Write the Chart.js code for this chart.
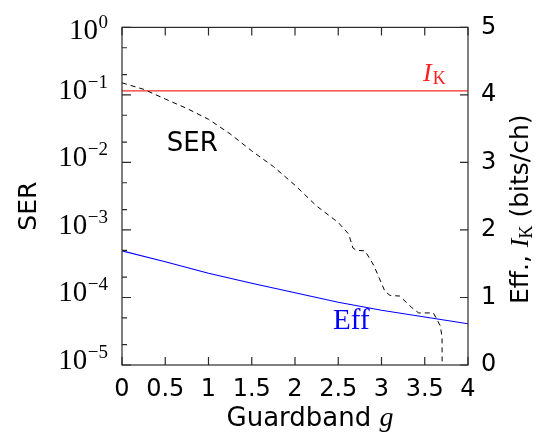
<!DOCTYPE html>
<html><head><meta charset="utf-8">
<script src="https://cdn.jsdelivr.net/npm/chart.js@4"></script>
<style>html,body{margin:0;padding:0;background:#fff;}canvas{display:block;}</style>
</head><body><canvas id="c" width="543" height="435"></canvas>
<script>
// ---- data ----
const xTicks = [0, 0.5, 1, 1.5, 2, 2.5, 3, 3.5, 4];
const xTickLabels = ["0", "0.5", "1", "1.5", "2", "2.5", "3", "3.5", "4"];
const leftTickVals = [1, 0.1, 0.01, 0.001, 0.0001, 0.00001];
const leftTickExps = ["0", "\u22121", "\u22122", "\u22123", "\u22124", "\u22125"];
const leftMinorMult = [0.5, 0.2];
const rightTicks = [0, 1, 2, 3, 4, 5];

const serX = [0, 0.25, 0.5, 0.75, 1, 1.25, 1.5, 1.75, 2, 2.25, 2.5, 2.62, 2.67, 2.71, 2.81, 2.91, 3.04, 3.1, 3.21, 3.35, 3.43, 3.6, 3.68, 3.7, 3.705];
const serY = [0.151, 0.121, 0.087, 0.063, 0.0436, 0.0265, 0.0148, 0.0087, 0.0046, 0.00226, 0.00129, 0.00087, 0.00054, 0.0005, 0.00049, 0.0003, 0.000123, 0.000107, 0.000105, 0.000071, 0.000059, 0.000059, 0.000038, 0.0000257, 0.0000001];
const effX = [0, 0.5, 1, 1.5, 2, 2.5, 3, 3.5, 4];
const effY = [1.69, 1.53, 1.36, 1.21, 1.07, 0.93, 0.81, 0.71, 0.61];
const ikX = [0, 4];
const ikY = [4.06, 4.06];

const SANS = '"DejaVu Sans"';
const SERIF = '"Liberation Serif"';

const pts = (xs, ys) => xs.map((x, i) => ({x: x, y: ys[i]}));

function drawPieces(ctx, pieces, x0, y0) {
  let w = 0;
  pieces.forEach(p => { ctx.font = p.f; p.w = ctx.measureText(p.t).width; w += p.w; });
  let x = x0 - w / 2;
  pieces.forEach(p => { ctx.font = p.f; ctx.fillStyle = p.c || '#000'; ctx.fillText(p.t, x, y0 + (p.dy || 0)); x += p.w; });
}

const decor = {
  id: 'decor',
  afterDraw(chart) {
    const {ctx, chartArea: a, scales} = chart;
    const sx = scales.x, sy = scales.y, sy2 = scales.y2;
    ctx.save();
    ctx.strokeStyle = '#2a2a2a';
    ctx.lineWidth = 1.2;
    ctx.beginPath();
    xTicks.forEach(v => {
      const px = sx.getPixelForValue(v);
      ctx.moveTo(px, a.bottom); ctx.lineTo(px, a.bottom - 8);
      ctx.moveTo(px, a.top); ctx.lineTo(px, a.top + 8);
    });
    leftTickVals.forEach((v, i) => {
      const py = sy.getPixelForValue(v);
      ctx.moveTo(a.left, py); ctx.lineTo(a.left + 9, py);
      if (i < leftTickVals.length - 1) {
        leftMinorMult.forEach(m => {
          const q = sy.getPixelForValue(v * m);
          ctx.moveTo(a.left, q); ctx.lineTo(a.left + 5, q);
        });
      }
    });
    rightTicks.forEach(v => {
      const py = sy2.getPixelForValue(v);
      ctx.moveTo(a.right, py); ctx.lineTo(a.right - 8, py);
    });
    ctx.stroke();
    ctx.strokeRect(a.left, a.top, a.right - a.left, a.bottom - a.top);

    // left tick labels (10^k)
    ctx.fillStyle = '#000';
    ctx.textBaseline = 'alphabetic';
    ctx.textAlign = 'left';
    leftTickVals.forEach((v, i) => {
      const py = sy.getPixelForValue(v);
      const base = Math.max(py + 4, a.top + 12);
      ctx.font = '19px ' + SERIF;
      const ew = ctx.measureText(leftTickExps[i]).width;
      ctx.font = '29px ' + SERIF;
      const bw = ctx.measureText('10').width;
      const right = 108;
      ctx.fillText('10', right - ew - bw - 0.5, base);
      ctx.font = '19px ' + SERIF;
      ctx.fillText(leftTickExps[i], right - ew, base - 11);
    });

    // axis titles
    ctx.save();
    ctx.translate(36, (a.top + a.bottom) / 2 + 10);
    ctx.rotate(-Math.PI / 2);
    drawPieces(ctx, [{t: 'SER', f: '25px ' + SANS}], 0, 0);
    ctx.restore();

    drawPieces(ctx, [
      {t: 'Guardband ', f: '26px ' + SANS},
      {t: 'g', f: 'italic 28px ' + SERIF}
    ], (a.left + a.right) / 2 + 15, 426);

    ctx.save();
    ctx.translate(528, (a.top + a.bottom) / 2 + 13);
    ctx.rotate(-Math.PI / 2);
    drawPieces(ctx, [
      {t: 'Eff., ', f: '25px ' + SANS},
      {t: 'I', f: 'italic 26px ' + SERIF},
      {t: 'K', f: '18px ' + SERIF, dy: 4},
      {t: ' (bits/ch)', f: '25px ' + SANS}
    ], 0, 0);
    ctx.restore();

    // in-plot labels
    ctx.textAlign = 'left';
    ctx.fillStyle = '#000';
    ctx.font = '26px ' + SANS;
    ctx.fillText('SER', sx.getPixelForValue(0.517), sy.getPixelForValue(0.01456));
    ctx.fillStyle = '#0000ff';
    ctx.font = '29px ' + SERIF;
    ctx.fillText('Eff', sx.getPixelForValue(2.44), sy2.getPixelForValue(0.54));
    ctx.fillStyle = '#ff2020';
    ctx.font = 'italic 26px ' + SERIF;
    const ix = sx.getPixelForValue(3.48), iy = sy2.getPixelForValue(4.2);
    ctx.fillText('I', ix, iy);
    const iw = ctx.measureText('I').width;
    ctx.font = '18px ' + SERIF;
    ctx.fillText('K', ix + iw + 1, iy + 3);
    ctx.restore();
  }
};

new Chart(document.getElementById('c'), {
  type: 'line',
  data: {
    datasets: [
      {label: 'SER', data: pts(serX, serY), yAxisID: 'y', borderColor: '#000', borderWidth: 1, borderDash: [5, 4], pointRadius: 0, fill: false, tension: 0},
      {label: 'Eff', data: pts(effX, effY), yAxisID: 'y2', borderColor: '#0000ff', borderWidth: 1.1, pointRadius: 0, fill: false, tension: 0},
      {label: 'IK', data: pts(ikX, ikY), yAxisID: 'y2', borderColor: '#ff2a2a', borderWidth: 1.3, pointRadius: 0, fill: false, tension: 0}
    ]
  },
  options: {
    responsive: false,
    animation: false,
    devicePixelRatio: 1,
    layout: {padding: {top: 22, left: 0, right: 0, bottom: 0}},
    plugins: {legend: {display: false}, tooltip: {enabled: false}},
    scales: {
      x: {
        type: 'linear', min: 0, max: 4,
        afterFit: s => { s.height = 70; },
        afterBuildTicks: s => { s.ticks = xTicks.map(v => ({value: v})); },
        ticks: {callback: (v) => { const i = xTicks.indexOf(v); return i >= 0 ? xTickLabels[i] : ''; }, font: {family: 'DejaVu Sans', size: 24}, color: '#000', padding: 10, maxRotation: 0, autoSkip: false},
        grid: {display: false, drawTicks: false},
        border: {display: false}
      },
      y: {
        type: 'logarithmic', position: 'left', min: 0.00001, max: 1,
        afterFit: s => { s.width = 122; },
        ticks: {display: false},
        grid: {display: false, drawTicks: false},
        border: {display: false}
      },
      y2: {
        type: 'linear', position: 'right', min: 0, max: 5,
        afterFit: s => { s.width = 75; },
        afterBuildTicks: s => { s.ticks = rightTicks.map(v => ({value: v})); },
        ticks: {font: {family: 'DejaVu Sans', size: 24}, color: '#000', padding: 13},
        grid: {display: false, drawTicks: false},
        border: {display: false}
      }
    }
  },
  plugins: [decor]
});
</script>
</body></html>
